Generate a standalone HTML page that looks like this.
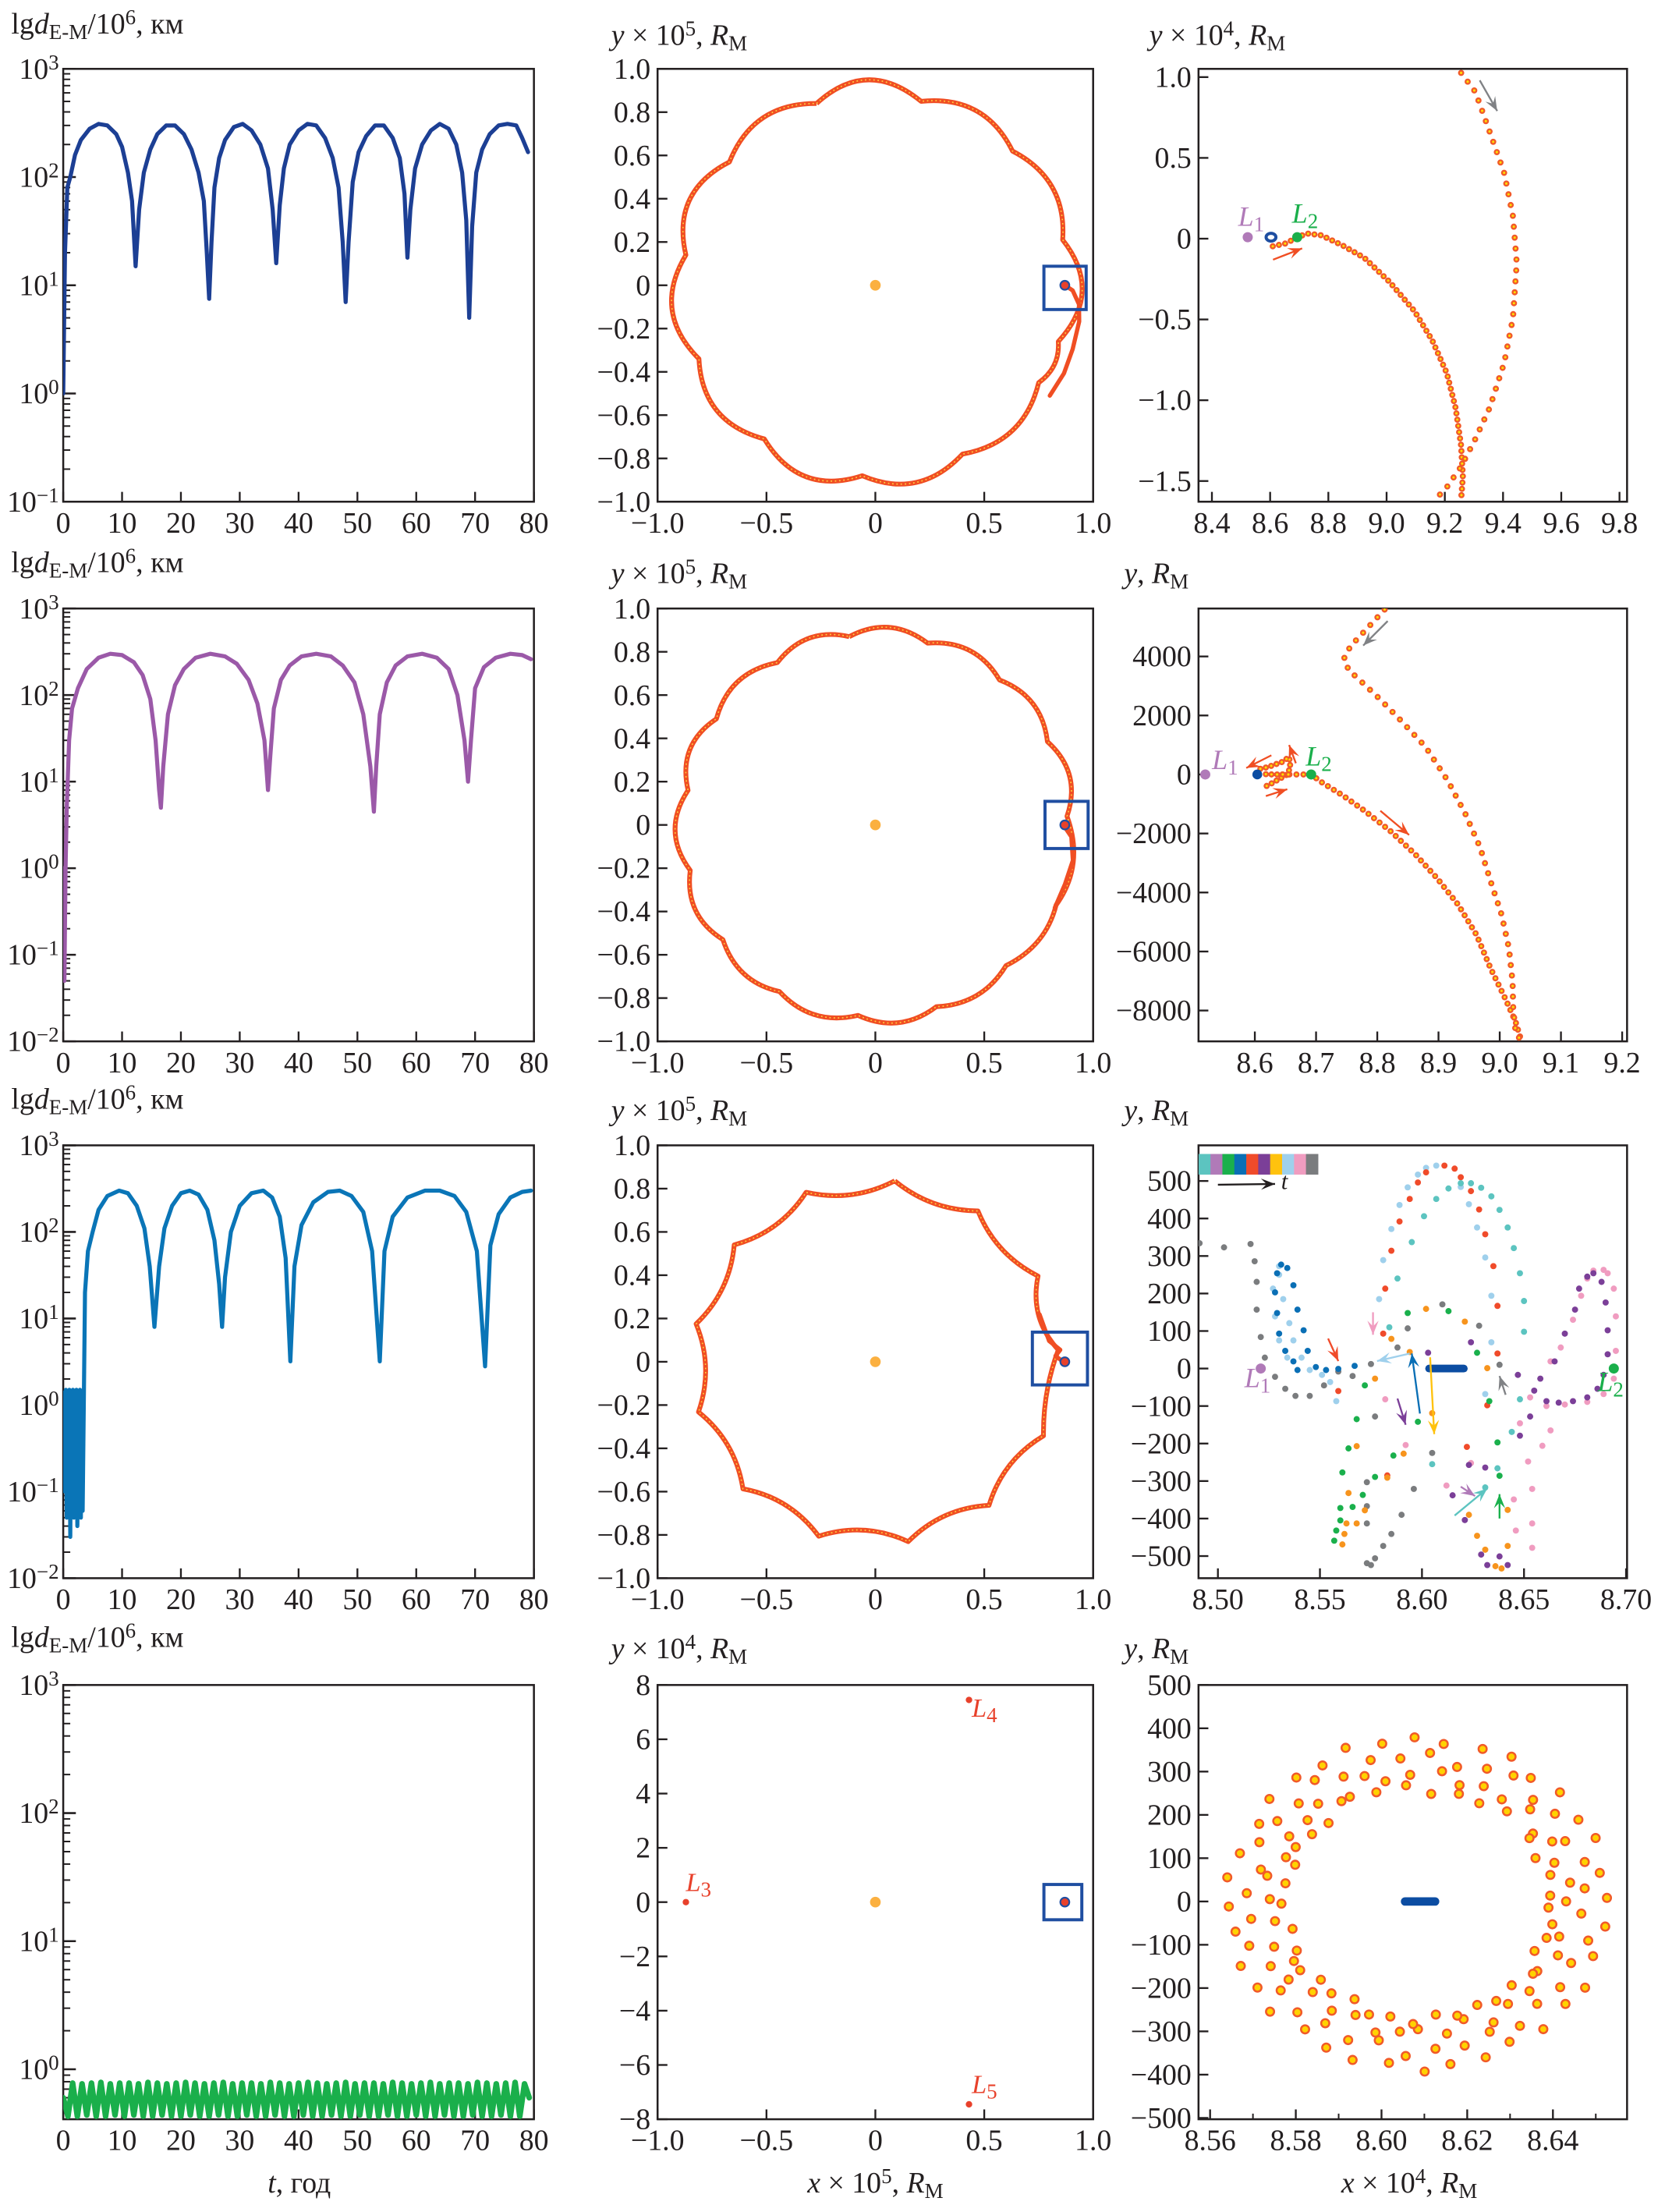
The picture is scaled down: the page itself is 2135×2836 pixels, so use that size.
<!DOCTYPE html>
<html><head><meta charset="utf-8">
<style>
html,body{margin:0;padding:0;background:#fff;}
svg{display:block;}
text{font-family:"Liberation Serif","DejaVu Serif",serif;fill:#231f20;}
</style></head>
<body>
<svg id="fig" xmlns="http://www.w3.org/2000/svg" width="2135" height="2836" viewBox="0 0 1185 1574" preserveAspectRatio="none"></svg>
<script>
// ---------- data: left column (distance vs time) ----------
const r1T=[0,0.3,0.7,1.2,2,3,4.5,6,7.5,9,10,11,11.7,12.3,12.9,13.7,14.8,16,17.5,19,20.5,21.8,23,23.9,24.4,24.8,25.2,25.7,26.5,27.5,29,30.5,32,33.5,34.8,35.6,36.2,36.8,37.5,38.5,40,41.5,43,44.5,45.8,46.8,47.5,48,48.5,49.2,50.2,51.5,53,54.5,56,57.2,58,58.5,59,59.8,61,62.5,64,65.5,66.8,67.8,68.5,69,69.5,70.2,71.2,72.5,74,75.5,77,78,79];
const r1D=[1,20,80,100,160,220,280,310,300,250,190,110,60,15,50,110,180,250,300,300,250,180,110,60,20,7.5,25,80,150,220,290,310,270,200,120,50,16,55,120,200,270,310,300,230,150,80,25,7,25,90,170,240,300,300,230,150,70,18,50,120,200,270,310,280,200,110,40,5,35,110,180,250,300,310,300,230,170];
const r2T=[0,0.2,0.4,0.6,1,1.5,2.5,4,6,8,10,12,13.5,14.8,15.7,16.3,16.6,17,17.8,19,20.5,22.5,25,27.5,29.5,31.5,33,34.2,34.8,35.2,35.8,37,38.5,40.5,43,45.5,47.5,49.5,51,52.2,52.8,53.2,53.8,55,56.5,58.5,61,63.5,65.5,67,68.2,68.8,69.3,70,71.5,73.5,76,78,79.5];
const r2D=[1,0.05,1,5,30,70,120,200,270,300,290,240,170,90,30,8,5,15,60,130,200,270,300,280,230,150,80,30,8,20,70,150,220,280,300,280,220,140,60,15,4.5,15,60,140,220,280,300,270,200,100,30,10,30,120,210,270,300,290,260];
const r3T=[0,0.15,0.3,0.45,0.6,0.75,0.9,1.05,1.2,1.35,1.5,1.65,1.8,1.95,2.1,2.25,2.4,2.55,2.7,2.85,3.0,3.15,3.3,3.7,4.2,5,6,7.5,9.5,11,12.5,13.8,14.7,15.5,16.3,17.2,18.5,20,21.5,23,24.5,25.7,26.5,27,27.5,28.5,30,32,34,35.5,36.8,37.8,38.6,39.3,40.5,42.5,45,47,49,51,52.5,53.8,54.6,56,58.5,61.5,64,66.5,68.5,70.3,71.7,72.6,74,76,78,79.5];
const r3D=[0.6,1.4,0.1,1.5,0.05,1.4,0.3,1.5,0.03,1.4,0.35,1.5,0.05,1.4,0.3,1.5,0.04,1.4,0.35,1.5,0.05,1.4,0.06,20,60,100,180,260,300,280,200,110,40,8,40,110,200,280,300,270,180,80,25,8,30,100,200,280,300,250,150,50,3.2,40,120,220,290,300,260,170,60,3.2,60,150,250,300,300,260,170,60,2.8,70,160,250,290,300];
const r4T=[0,0.8,1.6,2.4,3.2,4,4.8,5.6,6.4,7.2,8,8.8,9.6,10.4,11.2,12,12.8,13.6,14.4,15.2,16,16.8,17.6,18.4,19.2,20,20.8,21.6,22.4,23.2,24,24.8,25.6,26.4,27.2,28,28.8,29.6,30.4,31.2,32,32.8,33.6,34.4,35.2,36,36.8,37.6,38.4,39.2,40,40.8,41.6,42.4,43.2,44,44.8,45.6,46.4,47.2,48,48.8,49.6,50.4,51.2,52,52.8,53.6,54.4,55.2,56,56.8,57.6,58.4,59.2,60,60.8,61.6,62.4,63.2,64,64.8,65.6,66.4,67.2,68,68.8,69.6,70.4,71.2,72,72.8,73.6,74.4,75.2,76,76.8,77.6,78.4,79.2];
const r4D=[0.6,0.43,0.78,0.43,0.77,0.44,0.78,0.43,0.79,0.43,0.77,0.44,0.78,0.43,0.78,0.44,0.77,0.43,0.79,0.43,0.78,0.44,0.77,0.43,0.78,0.43,0.79,0.44,0.78,0.43,0.77,0.43,0.78,0.44,0.79,0.43,0.77,0.43,0.78,0.44,0.78,0.43,0.77,0.43,0.79,0.44,0.78,0.43,0.77,0.43,0.78,0.44,0.79,0.43,0.78,0.43,0.77,0.44,0.78,0.43,0.79,0.43,0.77,0.44,0.78,0.43,0.78,0.43,0.77,0.44,0.79,0.43,0.78,0.43,0.77,0.44,0.78,0.43,0.79,0.43,0.77,0.44,0.78,0.43,0.78,0.43,0.77,0.44,0.79,0.43,0.78,0.43,0.77,0.44,0.78,0.43,0.79,0.43,0.77,0.6];

// ---------- data: middle column (cusp vertices of trajectories) ----------
const m1CuspX=[-0.27,0.21,0.63,0.86,0.84,0.75,0.40,-0.06,-0.51,-0.81,-0.87,-0.67];
const m1CuspY=[0.84,0.85,0.62,0.21,-0.26,-0.45,-0.78,-0.88,-0.71,-0.34,0.14,0.57];
const m1LobeR=[0.95,0.93,0.93,0.95,0.90,0.92,0.93,0.94,0.93,0.94,0.94,0.93];
const m1TailX=[0.87,0.906,0.935,0.936,0.906,0.866,0.801];
const m1TailY=[0,-0.024,-0.088,-0.167,-0.295,-0.407,-0.51];
const m2CuspX=[-0.12,0.24,0.57,0.79,0.88,0.83,0.60,0.28,-0.08,-0.44,-0.70,-0.85,-0.86,-0.73,-0.45];
const m2CuspY=[0.87,0.84,0.67,0.385,0.04,-0.37,-0.65,-0.84,-0.88,-0.77,-0.53,-0.21,0.16,0.49,0.75];
const m2LobeR=[0.915,0.915,0.915,0.92,0.925,0.92,0.915,0.92,0.92,0.915,0.915,0.92,0.92,0.915,0.915];
const m2TailX=[0.863,0.90,0.907,0.871,0.824];
const m2TailY=[0,-0.055,-0.164,-0.273,-0.383];
const m3CuspX=[0.089,0.471,0.747,0.84,0.772,0.522,0.151,-0.26,-0.608,-0.812,-0.823,-0.648,-0.318];
const m3CuspY=[0.836,0.697,0.396,0.055,-0.342,-0.663,-0.831,-0.806,-0.587,-0.232,0.175,0.54,0.783];
const m3LobeR=[0.78,0.78,0.78,0.80,0.78,0.78,0.78,0.78,0.78,0.78,0.78,0.78,0.78];
const m3TailX=[0.863,0.827,0.849,0.798,0.754];
const m3TailY=[0,0.027,0.055,0.096,0.219];
const m4LX=[-0.87,0.43,0.43];
const m4LY=[0,7.45,-7.45];
const m4LName=['3','4','5'];

// ---------- data: right column ----------
const c1AX=[8.609,8.652,8.696,8.726,8.776,8.85,8.923,9.01,9.096,9.157,9.207,9.237,9.256,9.262,9.256];
const c1AY=[-0.047,-0.03,0.01,0.032,0.021,-0.043,-0.118,-0.267,-0.449,-0.63,-0.833,-1.047,-1.282,-1.474,-1.613];
const c1BX=[9.256,9.305,9.354,9.404,9.434,9.447,9.434,9.404,9.354,9.305,9.256,9.207,9.18];
const c1BY=[1.026,0.908,0.662,0.406,0.139,-0.15,-0.491,-0.769,-1.047,-1.239,-1.41,-1.538,-1.59];
const c2AX=[8.645,8.692,8.709,8.744,8.779,8.821,8.862,8.897,8.932,8.962,8.985,9.009,9.026,9.035];
const c2AY=[0,0,-261,-716,-1227,-1909,-2705,-3500,-4409,-5432,-6568,-7591,-8386,-9011];
const c2BX=[8.812,8.779,8.756,8.746,8.753,8.771,8.803,8.838,8.879,8.915,8.944,8.968,8.985,9.003,9.015,9.021,9.022,9.026,9.035];
const c2BY=[5590,4852,4340,3943,3545,3205,2580,1841,932,-205,-1341,-2477,-3614,-4750,-5886,-7023,-7932,-8727,-9045];
const c2CX=[8.609,8.621,8.644,8.656,8.658,8.653,8.64,8.625,8.615];
const c2CY=[193,250,420,590,250,0,-150,-330,-432];
const c2DX=[8.618,8.63,8.645,8.655];
const c2DY=[10,0,0,0];
// row 3 scatter series (x, y in R_M)
const s3GrayX=[8.491,8.503,8.516,8.518,8.519,8.519,8.521,8.523,8.528,8.533,8.538,8.545,8.552,8.559,8.566,8.573,8.575,8.577,8.581,8.585,8.590,8.573,8.573,8.573,8.577,8.575,8.588,8.593,8.610,8.628,8.638,8.596,8.605];
const s3GrayY=[334,323,332,286,231,157,84,29,-22,-54,-73,-73,-45,-8,-20,-519,-524,-506,-473,-441,-390,-413,-367,-303,-128,12,56,107,171,114,10,-321,-225];
const s3BlueX=[8.567,8.559,8.553,8.548,8.544,8.542,8.539,8.537,8.534,8.531,8.529,8.528,8.529,8.530,8.533,8.537,8.539];
const s3BlueY=[7,-1,-4,4,47,102,157,222,268,277,254,203,148,93,47,19,-4];
const s3LBlueX=[8.558,8.555,8.551,8.545,8.541,8.537,8.535,8.532,8.530,8.530,8.527,8.528,8.530,8.534,8.579,8.581,8.585,8.589,8.593,8.598,8.602,8.607,8.619,8.623,8.627,8.631,8.634,8.634,8.631];
const s3LBlueY=[-87,-36,-17,-4,29,75,121,185,250,273,213,139,75,29,185,289,372,436,483,517,535,541,484,438,376,296,194,70,-68];
const s3RedX=[8.581,8.582,8.585,8.589,8.594,8.598,8.602,8.611,8.616,8.619,8.624,8.628,8.631,8.635,8.637,8.637,8.632,8.622,8.559,8.583];
const s3RedY=[93,213,314,392,452,496,523,541,533,510,473,424,358,273,167,40,-98,-209,-60,-285];
const s3CyanX=[8.588,8.595,8.601,8.607,8.613,8.619,8.624,8.629,8.634,8.638,8.642,8.645,8.648,8.650,8.650,8.648,8.644,8.637,8.631,8.584,8.605];
const s3CyanY=[240,337,406,452,480,494,494,482,459,423,376,321,254,180,98,-82,-169,-266,-317,110,-255];
const s3PurpleX=[8.647,8.655,8.661,8.667,8.674,8.681,8.686,8.689,8.691,8.691,8.690,8.688,8.684,8.681,8.677,8.675,8.670,8.665,8.658,8.615,8.621,8.629,8.632,8.638,8.642,8.631,8.623,8.648,8.653,8.603,8.624];
const s3PurpleY=[-17,-59,-87,-91,-87,-77,-54,-17,38,102,176,231,254,245,213,157,93,19,-27,-338,-404,-496,-524,-501,-524,-264,-257,-179,-128,42,70];
const s3PinkX=[8.653,8.661,8.670,8.681,8.689,8.694,8.695,8.695,8.694,8.691,8.689,8.684,8.681,8.678,8.674,8.668,8.663,8.582,8.592,8.612,8.624,8.652,8.654,8.654,8.654,8.646,8.645,8.648,8.659,8.663];
const s3PinkY=[-77,-100,-96,-89,-68,-27,47,139,213,254,263,261,240,194,130,56,19,-82,-204,-312,-252,-248,-321,-413,-478,-432,-349,-146,-206,-165];
const s3GreenX=[8.557,8.558,8.560,8.560,8.561,8.564,8.568,8.572,8.566,8.571,8.577,8.586,8.593,8.613,8.627,8.598,8.637,8.638,8.633];
const s3GreenY=[-459,-432,-405,-372,-277,-213,-135,-45,-369,-337,-289,-232,148,153,42,-142,-197,-286,-87];
const s3OrangeX=[8.561,8.562,8.563,8.564,8.568,8.572,8.568,8.577,8.585,8.594,8.602,8.621,8.632,8.605,8.583,8.591,8.639,8.642,8.636,8.623,8.627,8.631,8.642];
const s3OrangeY=[-469,-441,-413,-332,-207,-378,-413,-27,79,44,159,125,1,-119,-291,-227,-533,-473,-527,-390,-446,-483,-377];
// row 4 ring (polar: angle deg, normalised radius)
const ringAng=[2,11,23,31,42,52,61,70,82,91,101,112,121,130,141,150,162,171,181,190,202,211,220,232,241,250,261,272,280,291,300,311,322,330,341,352,
6,16,26,37,46,57,66,76,86,96,106,117,126,136,146,156,166,176,186,196,206,216,226,236,246,256,266,276,286,296,306,316,326,336,346,356,
1,9,19,28,35,44,55,64,73,81,93,103,110,119,131,139,149,158,168,178,188,199,208,214,224,235,244,254,263,270,281,289,299,308,318,327,337,345,
4,14,24,34,50,62,72,84,95,108,123,134,143,152,160,170,180,193,204,213,222,230,240,249,258,268,278,287,297,305,315,325,335,343,350,358];
const ringRad=[0.97,0.95,0.99,0.96,0.98,0.94,0.99,0.97,0.95,0.98,0.96,0.99,0.95,0.97,0.98,0.94,0.96,0.99,0.97,0.95,0.98,0.96,0.99,0.94,0.97,0.98,0.95,0.99,0.96,0.97,0.94,0.98,0.96,0.99,0.95,0.97,
0.86,0.89,0.84,0.88,0.85,0.9,0.87,0.83,0.89,0.86,0.88,0.84,0.9,0.85,0.87,0.89,0.83,0.88,0.86,0.9,0.84,0.87,0.89,0.85,0.88,0.83,0.9,0.86,0.87,0.84,0.89,0.85,0.88,0.86,0.9,0.84,
0.76,0.79,0.74,0.78,0.72,0.8,0.75,0.77,0.73,0.79,0.76,0.74,0.8,0.72,0.78,0.75,0.77,0.73,0.79,0.76,0.74,0.78,0.72,0.8,0.75,0.77,0.73,0.79,0.76,0.74,0.78,0.72,0.8,0.75,0.77,0.73,0.78,0.75,
0.68,0.7,0.66,0.69,0.71,0.67,0.68,0.65,0.7,0.69,0.72,0.66,0.68,0.71,0.67,0.69,0.7,0.66,0.68,0.72,0.67,0.69,0.65,0.7,0.68,0.71,0.66,0.69,0.67,0.7,0.68,0.72,0.66,0.69,0.7,0.67];

// ---------- rendering ----------
const NS='http://www.w3.org/2000/svg';
const svg=document.getElementById('fig');
function mk(tag,attrs,parent){const e=document.createElementNS(NS,tag);for(const k in attrs)e.setAttribute(k,attrs[k]);(parent||svg).appendChild(e);return e;}
function tx(parent,x,y,parts,opts){
  const t=mk('text',Object.assign({x:x,y:y,'font-size':21},opts||{}),parent);
  parts.forEach(p=>{const s=mk('tspan',{},t);s.textContent=p[0];
    if(p[1]==='i')s.setAttribute('font-style','italic');
    if(p[1]==='sub'){s.setAttribute('baseline-shift','-25%');s.setAttribute('font-size',15);}
    if(p[1]==='sup'){s.setAttribute('baseline-shift','45%');s.setAttribute('font-size',15);}
  });
  return t;
}
let clipId=0;
function axes(o){
  const g=mk('g',{});
  
  
  const sx=v=>o.x0+(v-o.xmin)/(o.xmax-o.xmin)*(o.x1-o.x0);
  const sy=o.ylog?(v=>o.y1-(Math.log10(v)-o.ymin)/(o.ymax-o.ymin)*(o.y1-o.y0)):(v=>o.y1-(v-o.ymin)/(o.ymax-o.ymin)*(o.y1-o.y0));
  const cid='c'+(clipId++);
  const cp=mk('clipPath',{id:cid},g);mk('rect',{x:o.x0,y:o.y0,width:o.x1-o.x0,height:o.y1-o.y0},cp);
  const box=mk('rect',{x:o.x0,y:o.y0,width:o.x1-o.x0,height:o.y1-o.y0,fill:'none',stroke:'#231f20','stroke-width':1.4},g);
  
  
  const xa=mk('g',{},g);
  
  
  o.xt.forEach((v,i)=>{const px=sx(v);
    mk('line',{x1:px,x2:px,y1:o.y1,y2:o.y1-7,stroke:'#231f20','stroke-width':1.3},xa);
    if(o.xl[i]!==''){const t=tx(xa,px,o.y1+22,[[o.xl[i]]],{'text-anchor':'middle'});
      
      }
  });
  (o.xminor||[]).forEach(v=>{const px=sx(v);mk('line',{x1:px,x2:px,y1:o.y1,y2:o.y1-4,stroke:'#231f20','stroke-width':1.1},xa);});
  const ya=mk('g',{},g);
  
  
  if(o.ylog){
    for(let k=Math.floor(o.ymin);k<o.ymax;k++){for(let m=2;m<=9;m++){const lv=k+Math.log10(m);if(lv<o.ymin)continue;const py=sy(Math.pow(10,lv));mk('line',{x1:o.x0,x2:o.x0+5,y1:py,y2:py,stroke:'#231f20','stroke-width':1.1},ya);}}
    for(let k=Math.ceil(o.ymin);k<=o.ymax;k++){const py=sy(Math.pow(10,k));
      mk('line',{x1:o.x0,x2:o.x0+9,y1:py,y2:py,stroke:'#231f20','stroke-width':1.4},ya);
      const t=tx(ya,o.x0-3,py+7,[['10'],[String(k).replace('-','\u2212'),'sup']],{'text-anchor':'end'});
      
      }
  } else {
    o.yt.forEach((v,i)=>{const py=sy(v);
      mk('line',{x1:o.x0,x2:o.x0+7,y1:py,y2:py,stroke:'#231f20','stroke-width':1.3},ya);
      const t=tx(ya,o.x0-5,py+7,[[o.yl[i]]],{'text-anchor':'end'});
      
      });
  }
  const plot=mk('g',{'clip-path':'url(#'+cid+')'},g);
  
  
  return {g,sx,sy,plot};
}
function lineSeries(A,xs,ys,color,w,name){
  const d=xs.map((x,i)=>(i?'L':'M')+A.sx(x).toFixed(2)+' '+A.sy(ys[i]).toFixed(2)).join(' ');
  const p=mk('path',{d:d,fill:'none',stroke:color,'stroke-width':w,'stroke-linejoin':'round','stroke-linecap':'round'},A.plot);
  
  
  return p;
}
function dotted(A,xs,ys,sp,name){
  const d=xs.map((x,i)=>(i?'L':'M')+A.sx(x).toFixed(2)+' '+A.sy(ys[i]).toFixed(2)).join(' ');
  const g=mk('g',{},A.plot);
  
  
  mk('path',{d:d,fill:'none',stroke:'#f15a29','stroke-width':4.4,'stroke-linecap':'round','stroke-dasharray':'0 '+sp},g);
  mk('path',{d:d,fill:'none',stroke:'#ffe000','stroke-width':1.7,'stroke-linecap':'round','stroke-dasharray':'0 '+sp},g);
}
function scatter(A,xs,ys,color,r,name,ring){
  const g=mk('g',{},A.plot);
  
  
  xs.forEach((x,i)=>{
    const c=mk('circle',{cx:A.sx(x),cy:A.sy(ys[i]),r:r,fill:ring?'#fff':color,stroke:ring?color:'none','stroke-width':ring?1.3:0},g);
    
    
  });
}
function arrow(parent,x1,y1,x2,y2,color){
  const g=mk('g',{},parent);
  
  
  mk('line',{x1:x1,y1:y1,x2:x2,y2:y2,stroke:color,'stroke-width':1.3},g);
  const a=Math.atan2(y2-y1,x2-x1),L=10,W=4;
  const bx=x2-L*Math.cos(a),by=y2-L*Math.sin(a);
  const nx=-Math.sin(a)*W,ny=Math.cos(a)*W;
  mk('path',{d:`M${x2} ${y2} L${bx+nx} ${by+ny} L${x2-L*0.6*Math.cos(a)} ${y2-L*0.6*Math.sin(a)} L${bx-nx} ${by-ny} Z`,fill:color},g);
}
function flower(A,cx,cy,lr,name){
  const n=cx.length;let d='M'+A.sx(cx[0])+' '+A.sy(cy[0]);
  for(let i=0;i<n;i++){const j=(i+1)%n;
    const mx=(cx[i]+cx[j])/2,my=(cy[i]+cy[j])/2,mr=Math.hypot(mx,my);
    const ax=mx/mr*lr[i],ay=my/mr*lr[i];
    const qx=2*ax-mx,qy=2*ay-my;
    d+=` Q${A.sx(qx).toFixed(2)} ${A.sy(qy).toFixed(2)} ${A.sx(cx[j]).toFixed(2)} ${A.sy(cy[j]).toFixed(2)}`;}
  const g=mk('g',{},A.plot);
  
  
  mk('path',{d:d,fill:'none',stroke:'#f04e23','stroke-width':3.4,'stroke-linejoin':'round'},g);
  mk('path',{d:d,fill:'none',stroke:'#ffd23f','stroke-width':0.9,'stroke-dasharray':'1 2'},g);
}
function sunEarth(A,ex,bx0,bx1,by0,by1){
  const s=mk('circle',{cx:A.sx(0),cy:A.sy(0),r:3.8,fill:'#fbb040'},A.plot);
  
  
  const e=mk('circle',{cx:A.sx(ex),cy:A.sy(0),r:3.2,fill:'#e8412b',stroke:'#1f4ea1','stroke-width':1.2},A.plot);
  
  
  const b=mk('rect',{x:A.sx(bx0),y:A.sy(by1),width:A.sx(bx1)-A.sx(bx0),height:A.sy(by0)-A.sy(by1),fill:'none',stroke:'#1f4ea1','stroke-width':2.2},A.plot);
  
  
}
function lpoint(A,x,y,color,lab,lx,ly,name){
  const c=mk('circle',{cx:A.sx(x),cy:A.sy(y),r:3.6,fill:color},A.plot);
  
  
  const t=tx(A.plot,A.sx(lx),A.sy(ly),[['L','i'],[lab,'sub']],{'font-size':20});
  t.setAttribute('fill',color);t.querySelectorAll('tspan').forEach(s=>s.setAttribute('fill',color));
  
  
}

const COLS={A:[45,380],B:[468,778],C:[853,1158]};
const ROWS=[[49,357],[433,741],[815,1123],[1199,1508]];
const tX=[0,10,20,30,40,50,60,70,80],tXL=tX.map(String);
const mX=[-1,-0.5,0,0.5,1],mXL=['\u22121.0','\u22120.5','0','0.5','1.0'];
const mY=[-1,-0.8,-0.6,-0.4,-0.2,0,0.2,0.4,0.6,0.8,1],mYL=['\u22121.0','\u22120.8','\u22120.6','\u22120.4','\u22120.2','0','0.2','0.4','0.6','0.8','1.0'];

// titles
const titleY=[24,407,789,1172];
titleY.forEach((y,i)=>{
  const t=tx(svg,8,y,[['lg'],['d','i'],['E-M','sub'],['/10'],['6','sup'],[', км']],{'font-family':'"Liberation Serif","DejaVu Serif",serif'});
  
  
  const m=tx(svg,435,y+8,[['y','i'],[' \u00d7 10'],[i===3?'4':'5','sup'],[', '],['R','i'],['M','sub']]);
  
  
  const r=i===0?tx(svg,818,y+8,[['y','i'],[' \u00d7 10'],['4','sup'],[', '],['R','i'],['M','sub']]):tx(svg,800,y+8,[['y','i'],[', '],['R','i'],['M','sub']]);
  
  
});
const bx1=tx(svg,213,1560,[['t','i'],[', год']],{'text-anchor':'middle'});


const bx2=tx(svg,623,1560,[['x','i'],[' \u00d7 10'],['5','sup'],[', '],['R','i'],['M','sub']],{'text-anchor':'middle'});


const bx3=tx(svg,1003,1560,[['x','i'],[' \u00d7 10'],['4','sup'],[', '],['R','i'],['M','sub']],{'text-anchor':'middle'});



// left column
const leftSeries=[[r1T,r1D,'#1c3f94',-1],[r2T,r2D,'#9b59a8',-2],[r3T,r3D,'#0a75b7',-2],[r4T,r4D,'#1aaf4b',-0.39]];
leftSeries.forEach((s,i)=>{
  const A=axes({name:'distance-panel-'+(i+1),x0:COLS.A[0],x1:COLS.A[1],y0:ROWS[i][0],y1:ROWS[i][1],xmin:0,xmax:80,ymin:s[3],ymax:3,ylog:true,xt:tX,xl:tXL});
  lineSeries(A,s[0],s[1],s[2],i===3?4:2.9,'distance-line-'+(i+1));
});

// middle column
const mids=[[m1CuspX,m1CuspY,m1LobeR,m1TailX,m1TailY,[0.774,0.968,-0.112,0.088]],
            [m2CuspX,m2CuspY,m2LobeR,m2TailX,m2TailY,[0.779,0.977,-0.109,0.109]],
            [m3CuspX,m3CuspY,m3LobeR,m3TailX,m3TailY,[0.721,0.974,-0.107,0.137]]];
mids.forEach((m,i)=>{
  const A=axes({name:'orbit-panel-'+(i+1),x0:COLS.B[0],x1:COLS.B[1],y0:ROWS[i][0],y1:ROWS[i][1],xmin:-1,xmax:1,ymin:-1,ymax:1,xt:mX,xl:mXL,yt:mY,yl:mYL});
  flower(A,m[0],m[1],m[2],'trajectory-'+(i+1));
  lineSeries(A,m[3],m[4],'#f04e23',3,'trajectory-tail-'+(i+1));
  sunEarth(A,0.87,m[5][0],m[5][1],m[5][2],m[5][3]);
});
{
  const i=3;
  const A=axes({name:'orbit-panel-4',x0:COLS.B[0],x1:COLS.B[1],y0:ROWS[i][0],y1:ROWS[i][1],xmin:-1,xmax:1,ymin:-8,ymax:8,xt:mX,xl:mXL,yt:[-8,-6,-4,-2,0,2,4,6,8],yl:['\u22128','\u22126','\u22124','\u22122','0','2','4','6','8']});
  m4LX.forEach((x,k)=>{
    const c=mk('circle',{cx:A.sx(x),cy:A.sy(m4LY[k]),r:2.3,fill:'#e8412b'},A.plot);
    
    
    const t=tx(A.plot,A.sx(x)+(k===0?0:2),A.sy(m4LY[k])+(k===1?12:-8),[['L','i'],[m4LName[k],'sub']],{'font-size':19});
    t.setAttribute('fill','#e8412b');t.querySelectorAll('tspan').forEach(s=>s.setAttribute('fill','#e8412b'));
    
    
  });
  sunEarth(A,0.87,0.774,0.948,-0.65,0.65);
}

// right column, row 1
{
  const A=axes({name:'zoom-panel-1',x0:COLS.C[0],x1:COLS.C[1],y0:ROWS[0][0],y1:ROWS[0][1],xmin:8.354,xmax:9.826,ymin:-1.628,ymax:1.051,
    xt:[8.4,8.6,8.8,9.0,9.2,9.4,9.6,9.8],xl:['8.4','8.6','8.8','9.0','9.2','9.4','9.6','9.8'],
    yt:[1,0.5,0,-0.5,-1,-1.5],yl:['1.0','0.5','0','\u22120.5','\u22121.0','\u22121.5']});
  dotted(A,c1AX,c1AY,4.5,'trajectory-branch-a');
  dotted(A,c1BX,c1BY,7.8,'trajectory-branch-b');
  lpoint(A,8.523,0.009,'#b07ab8','1',8.49,0.08,'lagrange-L1');
  lpoint(A,8.693,0.009,'#1aaf4b','2',8.675,0.1,'lagrange-L2');
  const e=mk('ellipse',{cx:A.sx(8.603),cy:A.sy(0.009),rx:3.5,ry:2.8,fill:'#fff',stroke:'#1f4ea1','stroke-width':2.2},A.plot);
  
  
  arrow(A.plot,A.sx(8.61),A.sy(-0.13),A.sx(8.71),A.sy(-0.06),'#f04e23');
  arrow(A.plot,A.sx(9.32),A.sy(0.98),A.sx(9.38),A.sy(0.79),'#808285');
}
// right column, row 2
{
  const A=axes({name:'zoom-panel-2',x0:COLS.C[0],x1:COLS.C[1],y0:ROWS[1][0],y1:ROWS[1][1],xmin:8.508,xmax:9.208,ymin:-9045,ymax:5625,
    xt:[8.6,8.7,8.8,8.9,9.0,9.1,9.2],xl:['8.6','8.7','8.8','8.9','9.0','9.1','9.2'],
    yt:[4000,2000,0,-2000,-4000,-6000,-8000],yl:['4000','2000','0','\u22122000','\u22124000','\u22126000','\u22128000']});
  dotted(A,c2AX,c2AY,5,'trajectory-branch-a');
  dotted(A,c2BX,c2BY,7.5,'trajectory-branch-b');
  dotted(A,c2CX,c2CY,4,'trajectory-loop');
  dotted(A,c2DX,c2DY,4,'trajectory-link');
  lpoint(A,8.519,0,'#b07ab8','1',8.53,180,'lagrange-L1');
  lpoint(A,8.692,0,'#1aaf4b','2',8.683,300,'lagrange-L2');
  const e=mk('rect',{x:A.sx(8.596),y:A.sy(0)-3.5,width:A.sx(8.612)-A.sx(8.596),height:7,rx:3.5,fill:'#0c4da2'},A.plot);
  
  
  arrow(A.plot,A.sx(8.627),A.sy(650),A.sx(8.586),A.sy(220),'#f04e23');
  arrow(A.plot,A.sx(8.667),A.sy(380),A.sx(8.656),A.sy(1000),'#f04e23');
  arrow(A.plot,A.sx(8.618),A.sy(-730),A.sx(8.653),A.sy(-500),'#f04e23');
  arrow(A.plot,A.sx(8.805),A.sy(-1230),A.sx(8.852),A.sy(-2050),'#f04e23');
  arrow(A.plot,A.sx(8.817),A.sy(5200),A.sx(8.777),A.sy(4370),'#808285');
}
// right column, row 3
{
  const A=axes({name:'zoom-panel-3',x0:COLS.C[0],x1:COLS.C[1],y0:ROWS[2][0],y1:ROWS[2][1],xmin:8.4905,xmax:8.7005,ymin:-559,ymax:595,
    xt:[8.5,8.55,8.6,8.65,8.7],xl:['8.50','8.55','8.60','8.65','8.70'],
    yt:[500,400,300,200,100,0,-100,-200,-300,-400,-500],yl:['500','400','300','200','100','0','\u2212100','\u2212200','\u2212300','\u2212400','\u2212500']});
  scatter(A,s3GrayX,s3GrayY,'#7a7c7e',2.2,'series-gray');
  scatter(A,s3LBlueX,s3LBlueY,'#9fd0ec',2.2,'series-light-blue');
  scatter(A,s3BlueX,s3BlueY,'#0a6fb5',2.2,'series-blue');
  scatter(A,s3RedX,s3RedY,'#f04b2a',2.2,'series-red');
  scatter(A,s3CyanX,s3CyanY,'#5cc4c0',2.2,'series-teal');
  scatter(A,s3PinkX,s3PinkY,'#f09cc0',2.2,'series-pink');
  scatter(A,s3PurpleX,s3PurpleY,'#7b3f98',2.2,'series-purple');
  scatter(A,s3GreenX,s3GreenY,'#1ab04c',2.2,'series-green');
  scatter(A,s3OrangeX,s3OrangeY,'#f7941d',2.2,'series-orange');
  lpoint(A,8.521,0,'#b07ab8','1',8.513,-50,'lagrange-L1');
  lpoint(A,8.694,0,'#1aaf4b','2',8.686,-60,'lagrange-L2');
  const e=mk('line',{x1:A.sx(8.6035),x2:A.sx(8.6205),y1:A.sy(0),y2:A.sy(0),stroke:'#0c4da2','stroke-width':5.5,'stroke-linecap':'round'},A.plot);
  
  
  const legCols=['#5cc4c0','#b07ab8','#1ab04c','#0a6fb5','#f04b2a','#7b3f98','#ffc20e','#9fd0ec','#f09cc0','#7a7c7e'];
  const lg=mk('g',{},A.plot);
  
  
  const lx0=A.sx(8.4905),lx1=A.sx(8.549),ly0=A.sy(572),ly1=A.sy(517),w=(lx1-lx0)/legCols.length;
  legCols.forEach((c,k)=>{const r=mk('rect',{x:lx0+k*w,y:ly0,width:w+0.3,height:ly1-ly0,fill:c},lg);
    
    });
  arrow(lg,A.sx(8.5),A.sy(490),A.sx(8.528),A.sy(492),'#231f20');
  const tt=tx(lg,A.sx(8.531),A.sy(478),[['t','i']],{'font-size':17});
  
  
  arrow(A.plot,A.sx(8.554),A.sy(80),A.sx(8.559),A.sy(20),'#f04b2a');
  arrow(A.plot,A.sx(8.576),A.sy(150),A.sx(8.576),A.sy(90),'#f09cc0');
  arrow(A.plot,A.sx(8.594),A.sy(40),A.sx(8.578),A.sy(20),'#9fd0ec');
  arrow(A.plot,A.sx(8.599),A.sy(-120),A.sx(8.595),A.sy(40),'#0a6fb5');
  arrow(A.plot,A.sx(8.604),A.sy(30),A.sx(8.606),A.sy(-175),'#ffc20e');
  arrow(A.plot,A.sx(8.588),A.sy(-80),A.sx(8.592),A.sy(-150),'#7b3f98');
  arrow(A.plot,A.sx(8.641),A.sy(-70),A.sx(8.638),A.sy(-20),'#808285');
  arrow(A.plot,A.sx(8.619),A.sy(-315),A.sx(8.626),A.sy(-340),'#b07ab8');
  arrow(A.plot,A.sx(8.616),A.sy(-392),A.sx(8.632),A.sy(-320),'#5cc4c0');
  arrow(A.plot,A.sx(8.638),A.sy(-400),A.sx(8.638),A.sy(-335),'#1ab04c');
}
// right column, row 4
{
  const A=axes({name:'zoom-panel-4',x0:COLS.C[0],x1:COLS.C[1],y0:ROWS[3][0],y1:ROWS[3][1],xmin:8.5573,xmax:8.6573,ymin:-503,ymax:500,
    xt:[8.56,8.58,8.6,8.62,8.64],xl:['8.56','8.58','8.60','8.62','8.64'],xminor:[8.57,8.59,8.61,8.63,8.65],
    yt:[500,400,300,200,100,0,-100,-200,-300,-400,-500],yl:['500','400','300','200','100','0','\u2212100','\u2212200','\u2212300','\u2212400','\u2212500']});
  const g=mk('g',{},A.plot);
  
  
  ringAng.forEach((a,k)=>{
    const rad=a*Math.PI/180;
    const x=8.6085+0.0455*ringRad[k]*Math.cos(rad), y=-5+392*ringRad[k]*Math.sin(rad);
    const c=mk('circle',{cx:A.sx(x),cy:A.sy(y),r:2.9,fill:'#ffd200',stroke:'#f15a29','stroke-width':1.4},g);
    
    
  });
  const e=mk('line',{x1:A.sx(8.6055),x2:A.sx(8.6125),y1:A.sy(0),y2:A.sy(0),stroke:'#0c4da2','stroke-width':6,'stroke-linecap':'round'},A.plot);
  
  
}
</script>
</body></html>
